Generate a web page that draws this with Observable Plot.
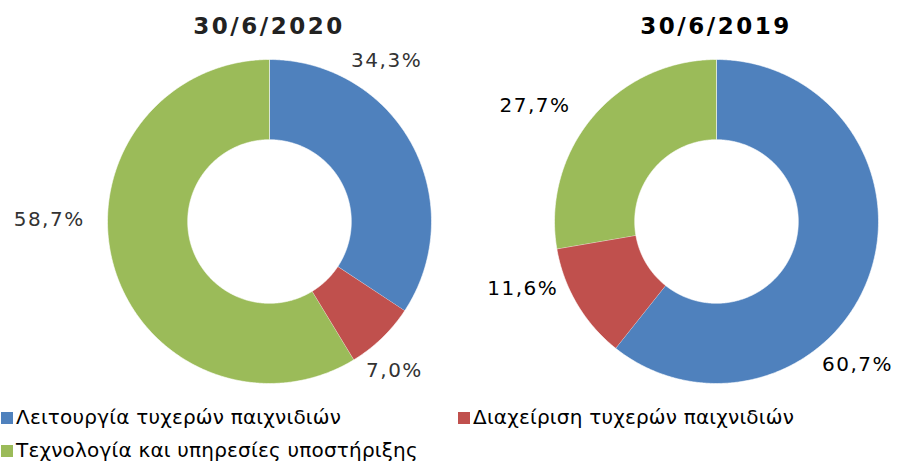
<!DOCTYPE html>
<html>
<head>
<meta charset="utf-8">
<script src="https://cdn.jsdelivr.net/npm/d3@7"></script>
<script src="https://cdn.jsdelivr.net/npm/@observablehq/plot@0.6"></script>
<style>
  html, body { margin: 0; padding: 0; background: #fff; }
  body { width: 898px; height: 466px; position: relative; overflow: hidden; font-family: "DejaVu Sans", Verdana, sans-serif; }
  .chart { position: absolute; top: 0; }
  .chart svg text { letter-spacing: 1.5px; }
  .title { position: absolute; top: 13px; width: 300px; text-align: center; font-weight: bold; font-size: 23px; letter-spacing: 2.5px; }
  .legend { position: absolute; font-size: 20px; letter-spacing: 0.2px; color: #000; white-space: nowrap; }
  .legend .sw { display: inline-block; width: 12px; height: 12px; margin-right: 3px; vertical-align: 0px; }
</style>
</head>
<body>
<script>
// ---- data ----
const years = ["30/6/2020", "30/6/2019"];
const categories = [
  "Λειτουργία τυχερών παιχνιδιών",
  "Διαχείριση τυχερών παιχνιδιών",
  "Τεχνολογία και υπηρεσίες υποστήριξης"
];
const shares2020 = [34.3, 7.0, 58.7];
const shares2019 = [60.7, 11.6, 27.7];
const colors = ["#4F81BD", "#C0504D", "#9BBB59"];
// label placement (angle in degrees clockwise from top, radius relative to outer radius)
const labelAngle2020 = [36, 140, 270.5];
const labelRadius2020 = [1.23, 1.2, 1.36];
const labelAngle2019 = [135.4, 251, 302.6];
const labelRadius2019 = [1.24, 1.265, 1.33];

// ---- layout ----
const W = 449, H = 400, CX = 269, CY = 221, R = 162, INNER = 0.505;

function donut(values, labelAngle, labelRadius, textColor) {
  const total = d3.sum(values);
  const pts = [];
  let start = 0;
  values.forEach((v, i) => {
    const a0 = start / total * 360, a1 = (start + v) / total * 360;
    start += v;
    const n = Math.max(2, Math.ceil(a1 - a0) * 2);
    const outer = [], inner = [];
    for (let k = 0; k <= n; k++) {
      const a = (a0 + (a1 - a0) * k / n) * Math.PI / 180;
      outer.push({cat: categories[i], x: Math.sin(a), y: Math.cos(a)});
      inner.push({cat: categories[i], x: INNER * Math.sin(a), y: INNER * Math.cos(a)});
    }
    pts.push(...outer, ...inner.reverse());
  });
  const labels = values.map((v, i) => {
    const a = labelAngle[i] * Math.PI / 180;
    return {x: labelRadius[i] * Math.sin(a), y: labelRadius[i] * Math.cos(a), text: v.toFixed(1).replace(".", ",") + "%"};
  });
  return Plot.plot({
    width: W, height: H,
    margin: 0,
    x: {domain: [-CX / R, (W - CX) / R], axis: null},
    y: {domain: [-(H - CY) / R, CY / R], axis: null},
    color: {domain: categories, range: colors},
    style: {fontFamily: "'DejaVu Sans', Verdana, sans-serif", background: "transparent"},
    marks: [
      Plot.line(pts, {x: "x", y: "y", z: "cat", fill: "cat", stroke: "white", strokeWidth: 0.6, curve: "linear"}),
      Plot.text(labels, {x: "x", y: "y", text: "text", fontSize: 20, fill: textColor})
    ]
  });
}

const charts = [
  {left: 0, values: shares2020, la: labelAngle2020, lr: labelRadius2020, color: "#333333", title: years[0]},
  {left: 447, values: shares2019, la: labelAngle2019, lr: labelRadius2019, color: "#000000", title: years[1]}
];
charts.forEach(c => {
  const div = document.createElement("div");
  div.className = "chart";
  div.style.left = c.left + "px";
  div.appendChild(donut(c.values, c.la, c.lr, c.color));
  document.body.appendChild(div);
  const t = document.createElement("div");
  t.className = "title";
  t.style.left = (c.left + CX - 150) + "px";
  t.style.color = c.color === "#000000" ? "#000" : "#222";
  t.textContent = c.title;
  document.body.appendChild(t);
});

const legendPos = [{left: 1, top: 405}, {left: 458, top: 405}, {left: 1, top: 438}];
categories.forEach((cat, i) => {
  const d = document.createElement("div");
  d.className = "legend";
  d.style.left = legendPos[i].left + "px";
  d.style.top = legendPos[i].top + "px";
  const sw = document.createElement("span");
  sw.className = "sw";
  sw.style.background = colors[i];
  d.appendChild(sw);
  d.appendChild(document.createTextNode(cat));
  document.body.appendChild(d);
});
</script>
</body>
</html>
